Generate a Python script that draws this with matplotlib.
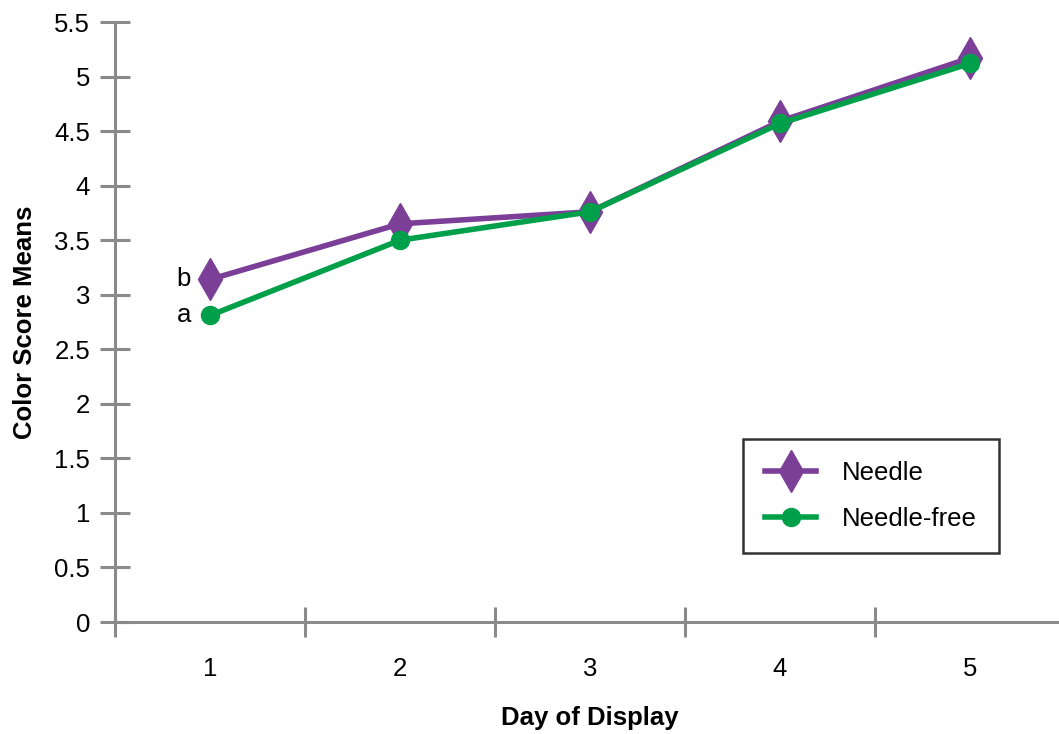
import matplotlib.pyplot as plt

plt.rcParams['font.family'] = ['Liberation Sans', 'DejaVu Sans']

days = [1, 2, 3, 4, 5]
needle = [3.14, 3.65, 3.76, 4.59, 5.17]
needle_free = [2.81, 3.50, 3.76, 4.57, 5.12]
y_ticks = [0, 0.5, 1, 1.5, 2, 2.5, 3, 3.5, 4, 4.5, 5, 5.5]

purple = '#7B3F98'
green = '#00A04A'
grey = '#8a8a8a'
fs = 18.5

fig = plt.figure(figsize=(10.59, 7.34), dpi=100)
ax = fig.add_axes([115 / 1059, 1 - 622 / 734, 950 / 1059, 600 / 734])

ax.plot(days, needle, color=purple, lw=4, marker='d', ms=21, label='Needle', zorder=3)
ax.plot(days, needle_free, color=green, lw=4, marker='o', ms=13, label='Needle-free', zorder=4)

ax.text(0.9, needle[0], 'b', fontsize=fs, ha='right', va='center')
ax.text(0.9, needle_free[0], 'a', fontsize=fs, ha='right', va='center')

ax.set_xlim(0.5, 5.5)
ax.set_ylim(0, 5.5)
ax.set_yticks(y_ticks)
ax.set_yticklabels([f'{v:g}' for v in y_ticks])

# ticks sit at category boundaries, labels at centres
ax.set_xticks([0.5, 1.5, 2.5, 3.5, 4.5])
ax.set_xticklabels([])
ax.set_xticks(days, minor=True)
ax.set_xticklabels([str(d) for d in days], minor=True)
ax.tick_params(axis='x', which='minor', length=0, pad=25, labelsize=fs)
ax.tick_params(axis='x', which='major', direction='inout', length=22, width=2.2, color=grey)
ax.tick_params(axis='y', direction='inout', length=22, width=2.2, color=grey, pad=7, labelsize=fs)

for s in ['top', 'right']:
    ax.spines[s].set_visible(False)
for s in ['left', 'bottom']:
    ax.spines[s].set_color(grey)
    ax.spines[s].set_linewidth(2.2)

ax.set_xlabel('Day of Display', fontsize=fs, fontweight='bold', labelpad=18)
ax.set_ylabel('Color Score Means', fontsize=fs, fontweight='bold', labelpad=12)

leg = ax.legend(loc='lower left', bbox_to_anchor=(628 / 950, 69 / 600), fontsize=fs,
                frameon=True, fancybox=False, edgecolor='black', handlelength=2.0,
                borderpad=0.85, labelspacing=0.85, handletextpad=1.0, borderaxespad=0)
leg.get_frame().set_linewidth(1.8)

fig.savefig('out.png', dpi=100)
